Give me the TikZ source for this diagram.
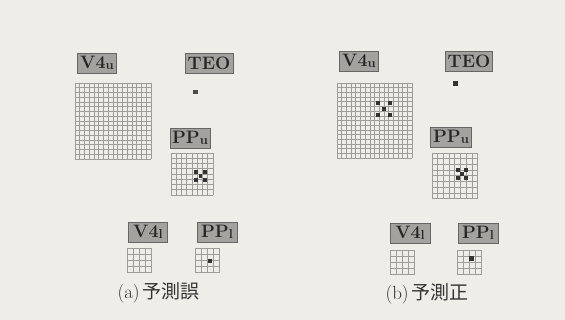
\documentclass[tikz,border=0pt]{standalone}
\usepackage{fontspec}
\newfontfamily\cjk{Noto Sans CJK JP}
\definecolor{bg}{HTML}{EFEDE8}
\definecolor{lab}{HTML}{A3A29E}
\definecolor{gl}{HTML}{9E9D99}
\definecolor{dotc}{HTML}{333333}
\tikzset{
  area/.style={draw=gray!80!black, line width=0.6pt, fill=lab, minimum height=20pt, inner sep=1.5pt, font=\fontsize{18}{18}\selectfont\bfseries, text=black!85},
  gline/.style={draw=gl, line width=0.65pt},
  caption/.style={font=\fontsize{19}{19}\selectfont, text=black!80, anchor=west},
  spot/.style={fill=dotc, draw=none}
}
\newcommand\sub[1]{\raisebox{-1pt}{\fontsize{13}{13}\selectfont #1}}
\newcommand\cellgrid[4]{%
  \foreach \i in {0,...,#3}{%
    \draw[gline] ({#1+\i*#4},#2) -- ++(0,{#3*#4});
    \draw[gline] (#1,{#2+\i*#4}) -- ++({#3*#4},0);
  }}
\newcommand\spotat[3]{\fill[spot] ({#1-#3},{#2-#3}) rectangle ({#1+#3},{#2+#3});}
\begin{document}
\begin{tikzpicture}[x=1pt,y=-1pt]
\useasboundingbox (0,0) rectangle (565,320);
\fill[bg] (0,0) rectangle (565,320);

% ---------- (a) ----------
\node[area, minimum width=39pt] (aV4u) at (97,63) {V4\sub{u}};
\node[area, minimum width=48pt] (aTEO) at (209,63) {TEO};
\node[area, minimum width=40pt] (aPPu) at (190,138) {PP\sub{u}};
\node[area, minimum width=39pt] (aV4l) at (148,232) {V4\sub{l}};
\node[area, minimum width=40pt] (aPPl) at (217,232) {PP\sub{l}};
\cellgrid{75}{83}{16}{4.75}
\cellgrid{171}{153}{8}{5.25}
\cellgrid{127}{248}{4}{6.2}
\cellgrid{195}{248}{4}{6.2}
\fill[gray!60!black] (193,90) rectangle (197.5,94.5);
\spotat{196}{172}{1.9}\spotat{205}{172}{1.9}\spotat{200.5}{176}{1.9}\spotat{196}{180}{1.9}\spotat{205}{180}{1.9}
\spotat{210}{261}{2.4}
\node[caption] (acap) at (114,293) {(a)\,{\cjk 予測誤}};

% ---------- (b) ----------
\node[area, minimum width=39pt] (bV4u) at (359,61) {V4\sub{u}};
\node[area, minimum width=47pt] (bTEO) at (469,61) {TEO};
\node[area, minimum width=41pt] (bPPu) at (451,137) {PP\sub{u}};
\node[area, minimum width=40pt] (bV4l) at (410,233) {V4\sub{l}};
\node[area, minimum width=40pt] (bPPl) at (478,233) {PP\sub{l}};
\cellgrid{337}{83}{16}{4.7}
\cellgrid{432}{153}{8}{5.7}
\cellgrid{390}{250}{4}{6.2}
\cellgrid{457}{250}{4}{6.2}
\spotat{455}{84}{2.5}
\spotat{378}{103}{2}\spotat{390}{103}{2}\spotat{384}{109}{2}\spotat{378}{115}{2}\spotat{390}{115}{2}
\spotat{458}{170}{2}\spotat{466}{170}{2}\spotat{462}{174}{2}\spotat{458}{178}{2}\spotat{466}{178}{2}
\spotat{471}{259}{2.5}
\node[caption] (bcap) at (382,294) {(b)\,{\cjk 予測正}};
\end{tikzpicture}
\end{document}
